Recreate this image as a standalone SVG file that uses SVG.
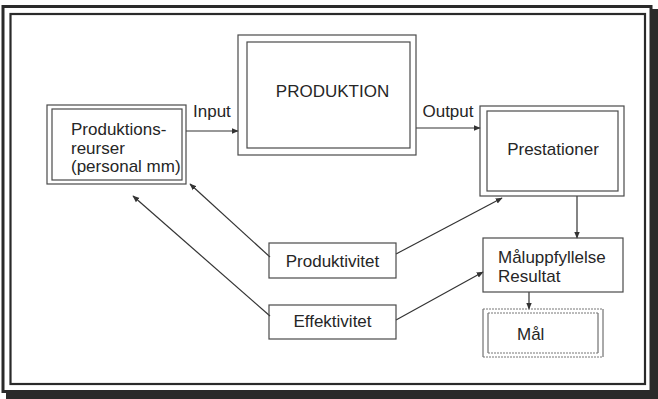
<svg xmlns="http://www.w3.org/2000/svg" width="658" height="399" viewBox="0 0 658 399">
<style>
.t{font-family:"Liberation Sans",Arial,sans-serif;font-size:17px;fill:#262626}
.b{fill:none;stroke:#4a4a4a;stroke-width:1.2}
.c{fill:none;stroke:#333;stroke-width:1.2}
.ms{fill:none;stroke:#555;stroke-width:1}
.md{fill:none;stroke:#777;stroke-width:1;stroke-dasharray:2 1}
</style>
<defs>
<marker id="ah" viewBox="0 0 10 10" refX="9" refY="5" markerWidth="7" markerHeight="7" markerUnits="userSpaceOnUse" orient="auto">
<path d="M0,1 L10,5 L0,9 Z" fill="#333"/>
</marker>
</defs>
<rect x="0" y="0" width="658" height="399" fill="#fff"/>
<g id="frame">
<rect x="651" y="9" width="7" height="390" fill="#2a2a2a"/>
<rect x="6" y="391" width="652" height="8" fill="#2a2a2a"/>
<rect x="3" y="6.5" width="648" height="385" fill="none" stroke="#2a2a2a" stroke-width="3"/>
<rect x="10.5" y="14" width="634.5" height="370" fill="none" stroke="#2a2a2a" stroke-width="2.2"/>
</g>
<g id="connectors">
<line class="c" x1="186" y1="131" x2="238" y2="131" marker-end="url(#ah)"/>
<line class="c" x1="416" y1="128" x2="480" y2="128" marker-end="url(#ah)"/>
<line class="c" x1="577" y1="196" x2="577" y2="238" marker-end="url(#ah)"/>
<line class="c" x1="529" y1="292" x2="529" y2="309" marker-end="url(#ah)"/>
<line class="c" x1="270" y1="257" x2="190" y2="184" marker-end="url(#ah)"/>
<line class="c" x1="270" y1="316" x2="133" y2="196" stroke-width="1.8" marker-end="url(#ah)"/>
<line class="c" x1="396" y1="254" x2="502" y2="198" marker-end="url(#ah)"/>
<line class="c" x1="396" y1="320" x2="483" y2="272" marker-end="url(#ah)"/>
</g>
<g id="produktion">
<rect class="b" x="238" y="35" width="178" height="120"/>
<rect class="b" x="247" y="42" width="163" height="106"/>
<text class="t" x="332.5" y="97" text-anchor="middle">PRODUKTION</text>
</g>
<g id="input-label"><text class="t" x="193" y="117">Input</text></g>
<g id="output-label"><text class="t" x="448" y="117" text-anchor="middle">Output</text></g>
<g id="resurser">
<rect class="b" x="47" y="105" width="139" height="79"/>
<rect class="b" x="52" y="109" width="130" height="71"/>
<text class="t" x="71" y="135">Produktions-</text>
<text class="t" x="71" y="154">reurser</text>
<text class="t" x="71" y="172">(personal mm)</text>
</g>
<g id="prestationer">
<rect class="b" x="480" y="106" width="144" height="90"/>
<rect class="b" x="487" y="111" width="131" height="80"/>
<text class="t" x="553" y="155" text-anchor="middle">Prestationer</text>
</g>
<g id="maluppfyllelse">
<rect class="b" x="483" y="238" width="140" height="54"/>
<text class="t" x="498" y="263">Måluppfyllelse</text>
<text class="t" x="498" y="282">Resultat</text>
</g>
<g id="mal">
<path class="ms" d="M483,309 V357 M603,309 V357 M488,313 V353 M598,313 V353"/>
<path class="md" d="M483,309 H603 M483,357 H603 M488,313 H598 M488,353 H598"/>
<text class="t" x="517" y="340">Mål</text>
</g>
<g id="produktivitet">
<rect class="b" x="269" y="243" width="127" height="35"/>
<text class="t" x="332.5" y="267" text-anchor="middle">Produktivitet</text>
</g>
<g id="effektivitet">
<rect class="b" x="269" y="305" width="127" height="34"/>
<text class="t" x="332.5" y="327" text-anchor="middle">Effektivitet</text>
</g>
</svg>
